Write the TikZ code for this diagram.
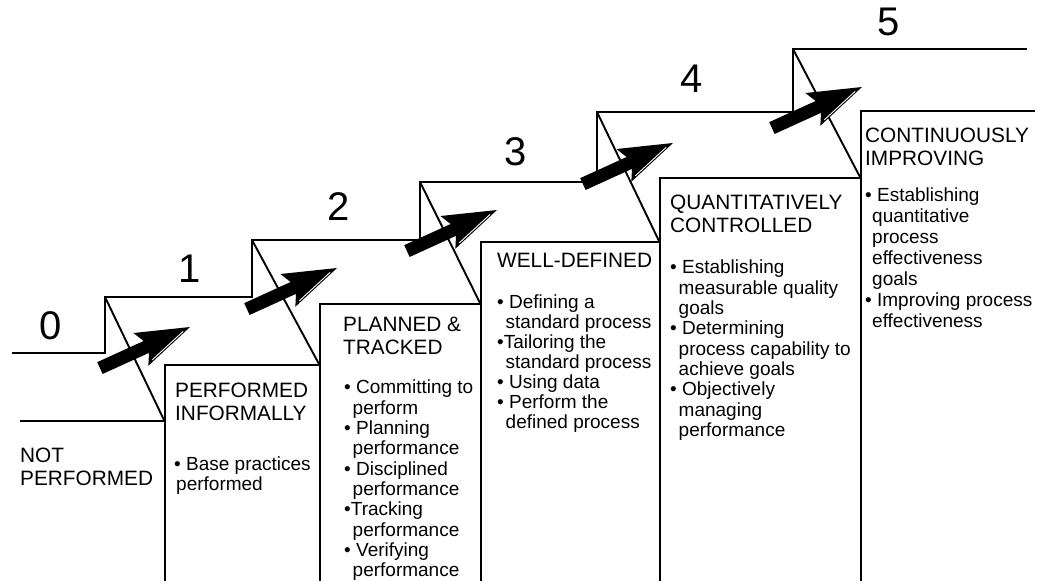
\documentclass[tikz,border=0pt]{standalone}
\usepackage{fontspec}
\setmainfont{Liberation Sans}
\usetikzlibrary{calc}
\newcommand{\stairarrow}[2]{%
  \begin{scope}[shift={(#1,#2)}, rotate=24.5]
    \fill[black] (-99,-6.5) -- (-48,-6.5) -- (-54,-18) -- (0,0) -- (-54,18) -- (-48,6.5) -- (-99,6.5) -- cycle;
    \draw[white, line width=0.9pt] (-8,1.1) -- (-48,14.3);
  \end{scope}}
\begin{document}
\begin{tikzpicture}[x=1pt,y=-1pt,
  stairline/.style={line width=2.2pt, line join=miter},
  diagline/.style={line width=1.9pt},
  digit/.style={font=\fontsize{40}{40}\selectfont, inner sep=0pt, anchor=center},
  headtext/.style={font=\fontsize{20.8}{22.5}\selectfont, inner sep=0pt, anchor=north west, align=left},
  bodytext/.style={font=\fontsize{19}{20.3}\selectfont, inner sep=0pt, anchor=north west, align=left},
]
\useasboundingbox[fill=white] (0,0) rectangle (1045,581);

% staircase (back edges)
\draw[stairline] (12,353) -- (105,353) -- (105,297) -- (252,297) -- (252,240)
  -- (420,240) -- (420,182) -- (597,182) -- (597,112) -- (793,112) -- (793,49) -- (1027,49);

% front faces
\draw[stairline] (20,421) -- (165,421);
\draw[stairline] (165,581) -- (165,365) -- (320,365);
\draw[stairline] (320,581) -- (320,304) -- (481,304);
\draw[stairline] (481,581) -- (481,242) -- (660,242);
\draw[stairline] (660,581) -- (660,178) -- (861,178);
\draw[stairline] (861,581) -- (861,111) -- (1035,111);

% diagonals
\draw[diagline] (105,297) -- (164,420);
\draw[diagline] (252,240) -- (319,364);
\draw[diagline] (420,182) -- (480,303);
\draw[diagline] (597,112) -- (659,241);
\draw[diagline] (793,49) -- (860,177);

% digits
\node[digit] (d0) at (51,326) {0};
\node[digit] (d1) at (189.5,269) {1};
\node[digit] (d2) at (339,207) {2};
\node[digit] (d3) at (516,152) {3};
\node[digit] (d4) at (692,79) {4};
\node[digit] (d5) at (889,22) {5};

% texts
\node[headtext] (t0) at (20,448) {NOT\\PERFORMED};

\node[headtext] (h1) at (175,383) {PERFORMED\\INFORMALLY};
\node[bodytext, font=\fontsize{19}{19.5}\selectfont] (b1) at (174,457) {• Base practices\\\hspace*{2pt}performed};

\node[headtext] (h2) at (343,317) {PLANNED \&\\TRACKED};
\node[bodytext] (b2) at (344,380) {• Committing to\\\hspace*{8.5pt}perform\\• Planning\\\hspace*{8.5pt}performance\\• Disciplined\\\hspace*{8.5pt}performance\\•Tracking\\\hspace*{8.5pt}performance\\• Verifying\\\hspace*{8.5pt}performance};

\node[headtext] (h3) at (497,253) {WELL-DEFINED};
\node[bodytext, font=\fontsize{19}{20}\selectfont] (b3) at (497,295) {• Defining a\\\hspace*{8.5pt}standard process\\•Tailoring the\\\hspace*{8.5pt}standard process\\• Using data\\• Perform the\\\hspace*{8.5pt}defined process};

\node[headtext] (h4) at (670,195) {QUANTITATIVELY\\CONTROLLED};
\node[bodytext] (b4) at (670,260) {• Establishing\\\hspace*{8.5pt}measurable quality\\\hspace*{8.5pt}goals\\• Determining\\\hspace*{8.5pt}process capability to\\\hspace*{8.5pt}achieve goals\\• Objectively\\\hspace*{8.5pt}managing\\\hspace*{8.5pt}performance};

\node[headtext] (h5) at (865,128) {CONTINUOUSLY\\IMPROVING};
\node[bodytext, font=\fontsize{19}{21}\selectfont] (b5) at (865,188) {• Establishing\\\hspace*{7pt}quantitative\\\hspace*{7pt}process\\\hspace*{7pt}effectiveness\\\hspace*{7pt}goals\\• Improving process\\\hspace*{7pt}effectiveness};

% arrows
\stairarrow{190}{327}
\stairarrow{337}{268}
\stairarrow{497}{210}
\stairarrow{673}{143}
\stairarrow{862}{87}
\end{tikzpicture}
\end{document}
